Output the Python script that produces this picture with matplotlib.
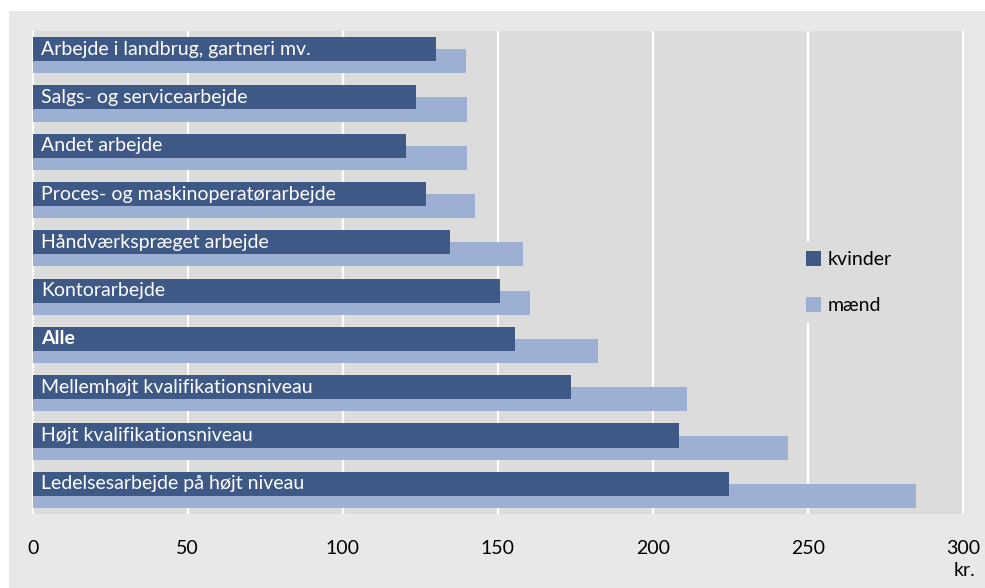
"""Hourly earnings by occupation, women vs men (horizontal overlapping bars)"""
import matplotlib
matplotlib.use('Agg')
import matplotlib.pyplot as plt
from matplotlib.patches import Rectangle, Patch
import numpy as np

plt.rcParams['font.family'] = ['Lato', 'DejaVu Sans']

categories = [
    'Arbejde i landbrug, gartneri mv.',
    'Salgs- og servicearbejde',
    'Andet arbejde',
    'Proces- og maskinoperatørarbejde',
    'Håndværkspræget arbejde',
    'Kontorarbejde',
    'Alle',
    'Mellemhøjt kvalifikationsniveau',
    'Højt kvalifikationsniveau',
    'Ledelsesarbejde på højt niveau',
]
kvinder = [130.0, 123.6, 120.4, 126.8, 134.6, 150.7, 155.5, 173.5, 208.3, 224.5]
maend = [139.8, 140.0, 140.0, 142.6, 158.1, 160.3, 182.2, 210.9, 243.5, 284.7]
xticks = [0, 50, 100, 150, 200, 250, 300]

DARK = '#3f5987'
LIGHT = '#9db0d4'
PLOT_BG = '#dcdcdc'
OUTER_BG = '#e8e8e8'
FS = 14

W, H = 985, 588
fig = plt.figure(figsize=(W / 100, H / 100), dpi=100)
fig.patch.set_facecolor('white')
fig.patches.append(Rectangle((9 / W, 0), 1 - 9 / W, 1 - 11 / H,
                             transform=fig.transFigure, facecolor=OUTER_BG,
                             edgecolor='none', zorder=-10))

ax = fig.add_axes([32.3 / W, 74 / H, 932 / W, 483 / H])
ax.set_facecolor(PLOT_BG)

y = np.arange(len(categories))
ax.barh(y + 0.125, maend, height=0.5, color=LIGHT, zorder=2, label='mænd')
ax.barh(y - 0.125, kvinder, height=0.5, color=DARK, zorder=3, label='kvinder')

for i, name in enumerate(categories):
    ax.annotate(name, xy=(0, i - 0.125), xytext=(6.3, 0),
                textcoords='offset points', va='center', ha='left',
                color='white', fontsize=FS, zorder=4,
                fontweight='bold' if name == 'Alle' else 'normal')

ax.set_xlim(-0.1, 300.4)
ax.set_ylim(len(categories) - 0.5, -0.5)
ax.set_xticks(xticks)
ax.set_xticklabels([str(t) for t in xticks], fontsize=FS)
ax.set_yticks([])
ax.tick_params(axis='x', length=0, pad=19)
ax.grid(axis='x', color='white', linewidth=1.6, zorder=1)
ax.set_axisbelow(True)
for spine in ax.spines.values():
    spine.set_visible(False)

fig.text(975 / W, 1 - 570 / H, 'kr.', ha='right', va='center', fontsize=FS)

handles = [Patch(facecolor=DARK, edgecolor='none'),
           Patch(facecolor=LIGHT, edgecolor='none')]
leg = ax.legend(handles, ['kvinder', 'mænd'], loc='upper left',
                bbox_to_anchor=(797 / W, 1 - 242 / H),
                bbox_transform=fig.transFigure, frameon=True, fontsize=FS,
                handlelength=0.8, handleheight=0.8, handletextpad=0.3,
                labelspacing=1.5, borderpad=0.45, borderaxespad=0,
                fancybox=False)
leg.get_frame().set_facecolor(PLOT_BG)
leg.get_frame().set_edgecolor('none')
leg.get_frame().set_alpha(1)
leg.set_zorder(5)

fig.savefig('out.png', dpi=100, facecolor=fig.get_facecolor())
